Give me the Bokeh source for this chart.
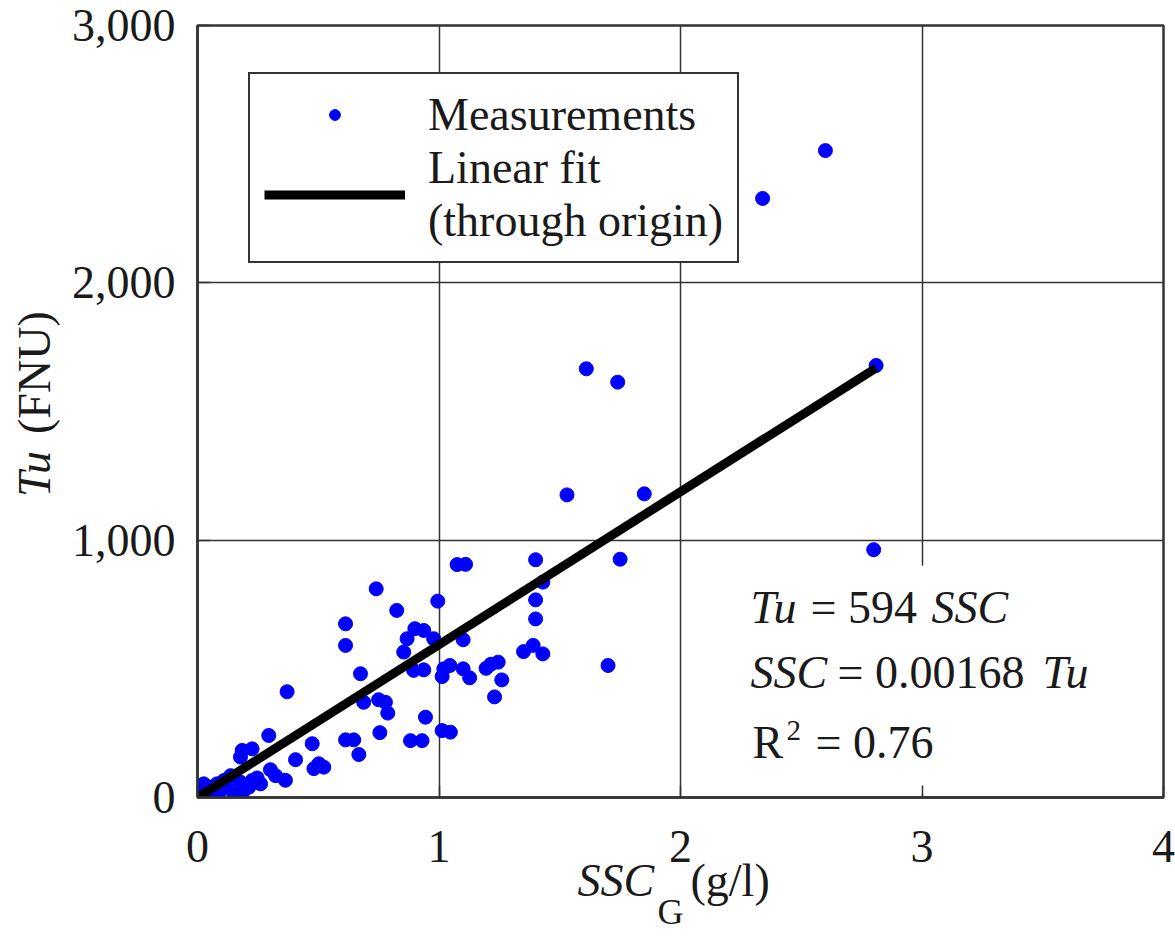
import numpy as np
from bokeh.plotting import figure
from bokeh.layouts import column, row
from bokeh.models import (Label, Legend, LegendItem, BoxAnnotation,
                          NumeralTickFormatter, FixedTicker, Range1d)
from bokeh.embed import file_html
from bokeh.resources import INLINE

# ---------------- data ----------------
ssc_g = [2.34, 2.60, 1.61, 1.74, 2.81, 1.53, 1.85, 2.80, 1.40, 1.75,
         1.43, 1.40, 1.40, 1.35, 1.39, 1.43, 1.70, 1.195, 1.215, 1.245,
         1.26, 1.23, 1.075, 1.11, 0.995, 1.10, 1.02, 1.045, 1.013, 1.10,
         1.127, 0.74, 0.825, 0.90, 0.937, 0.868, 0.978, 0.854, 0.895, 0.937,
         0.75, 0.778, 0.788, 0.755, 0.944, 0.882, 0.930, 1.013, 1.047, 0.613,
         0.613, 0.675, 0.688, 0.613, 0.647, 0.668, 0.371, 0.475, 0.406, 0.482,
         0.502, 0.523, 0.295, 0.185, 0.226, 0.178, 0.302, 0.323, 0.364, 0.247,
         0.261, 0.226, 0.137, 0.109, 0.081, 0.054, 0.033, 0.012, 0.002, 0.095,
         0.123, 0.150, 0.068, 0.192, 0.212, 0.026, 0.178]
tu_fnu = [2328, 2514, 1666, 1614, 1679, 1176, 1180, 963, 924, 926,
          837, 768, 694, 567, 591, 558, 513, 502, 518, 526,
          457, 391, 905, 906, 763, 613, 500, 513, 470, 500,
          465, 811, 727, 656, 649, 617, 617, 565, 494, 496,
          380, 370, 328, 252, 312, 221, 221, 260, 254, 675,
          591, 481, 370, 224, 224, 167, 411, 209, 147, 112,
          131, 118, 241, 183, 189, 157, 108, 85, 67, 76,
          53, 66, 85, 66, 53, 40, 27, 14, 8, 27,
          40, 14, 1, 27, 40, 53, 59]

fit_slope = 594          # Tu = 594 SSC
x_ticks = [0, 1, 2, 3, 4]
y_ticks = [0, 1000, 2000, 3000]

# ---------------- geometry / styling ----------------
FONT = "Liberation Serif"
FSZ = 46
FS = f"{FSZ}px"
TXT = "#1a1a1a"
DARK = "#333333"

TOTAL_W, TOTAL_H = 1175, 937
LW = 64                    # left strip (y title)
HM = 882                   # height of the main plot canvas
STRIP_TOP = 848            # top of the x-title strip (overlaps main's bottom, transparent)
F_L, F_T, F_R, F_B = 197, 25, 1163, 797   # frame edges on the page

# ---------------- main plot ----------------
p = figure(width=TOTAL_W - LW, height=HM,
           x_range=Range1d(0, 4), y_range=Range1d(0, 3000),
           output_backend="svg", toolbar_location=None,
           min_border_left=F_L - LW, min_border_top=F_T,
           min_border_right=TOTAL_W - F_R, min_border_bottom=HM - F_B)
p.background_fill_color = "white"
p.border_fill_color = "white"
p.outline_line_color = DARK
p.outline_line_width = 2.5

p.xaxis.ticker = FixedTicker(ticks=x_ticks)
p.yaxis.ticker = FixedTicker(ticks=y_ticks)
p.yaxis.formatter = NumeralTickFormatter(format="0,0")
for ax in (p.xaxis[0], p.yaxis[0]):
    ax.major_label_text_font = FONT
    ax.major_label_text_font_size = FS
    ax.major_label_text_color = TXT
    ax.major_tick_in = 12
    ax.major_tick_out = 0
    ax.minor_tick_in = 0
    ax.minor_tick_out = 0
    ax.axis_line_color = DARK
    ax.axis_line_width = 2.5
    ax.major_tick_line_color = DARK
    ax.major_tick_line_width = 1.5
p.xaxis.major_label_standoff = 33
p.yaxis.major_label_standoff = 22

p.grid.grid_line_color = DARK
p.grid.grid_line_width = 1.5

# page pixel -> data helpers (text placement inside the frame only)
def dx(px):
    return (px - F_L) * 4 / (F_R - F_L)

def dy(py):
    return (F_B - py) * 3000 / (F_B - F_T)

# white background behind the equation text (hides the grid there)
p.add_layout(BoxAnnotation(left=dx(738), right=dx(1158), bottom=dy(794), top=dy(565),
                           fill_color="white", fill_alpha=1.0, line_alpha=0,
                           level="underlay"))

# ---------------- data marks ----------------
sc = p.scatter(ssc_g, tu_fnu, size=14, marker="circle",
               fill_color="#0000FF", line_color="#0000FF")
fit_x = np.array([0.0, max(ssc_g)])
ln = p.line(fit_x, fit_slope * fit_x, line_color="black", line_width=9)

# ---------------- legend ----------------
legend = Legend(items=[LegendItem(label="Measurements", renderers=[sc]),
                       LegendItem(label="Linear fit\n(through origin)", renderers=[ln])],
                location=(51, 534),
                label_text_font=FONT, label_text_font_size=FS, label_text_color=TXT,
                glyph_width=141, glyph_height=27, label_standoff=23,
                padding=14, spacing=0,
                border_line_color=DARK, border_line_width=2, border_line_alpha=1.0,
                background_fill_color="white", background_fill_alpha=1.0)
p.add_layout(legend)

# ---------------- texts ----------------
# (baseline positions are given in page pixels; a small empirical
#  correction compensates the renderer's baseline placement)
def hlab(fig, text, x, base_y, italic=False, size=FSZ, to_x=None, to_y=None):
    y = base_y - 0.34 * size
    fig.add_layout(Label(x=to_x(x) if to_x else x, y=to_y(y) if to_y else y,
                         text=text, text_font=FONT, text_font_size=f"{size}px",
                         text_color=TXT,
                         text_font_style="italic" if italic else "normal",
                         text_align="left", text_baseline="alphabetic"))

def vlab(fig, text, base_x, start_y, italic=False, size=FSZ):
    fig.add_layout(Label(x=base_x - 0.34 * size, y=start_y + 0.71 * size,
                         text=text, angle=np.pi / 2,
                         text_font=FONT, text_font_size=f"{size}px", text_color=TXT,
                         text_font_style="italic" if italic else "normal",
                         text_align="left", text_baseline="alphabetic"))

# equation block (inside the frame)
kw = dict(to_x=dx, to_y=dy)
hlab(p, "Tu", 750, 623, italic=True, **kw)
hlab(p, "= 594", 810, 623, **kw)
hlab(p, "SSC", 931, 623, italic=True, **kw)
hlab(p, "SSC", 750, 688, italic=True, **kw)
hlab(p, "= 0.00168", 837, 688, **kw)
hlab(p, "Tu", 1042, 688, italic=True, **kw)
hlab(p, "R", 752, 758, **kw)
hlab(p, "2", 786, 740, size=29, **kw)
hlab(p, "= 0.76", 815, 758, **kw)

# ---------------- strips for the axis titles ----------------
def strip(w, h, x0, y0):
    f = figure(width=w, height=h, x_range=Range1d(x0, x0 + w), y_range=Range1d(y0 + h, y0),
               x_axis_type=None, y_axis_type=None, output_backend="svg",
               toolbar_location=None, min_border=0)
    f.outline_line_color = None
    f.background_fill_alpha = 0
    f.border_fill_alpha = 0
    return f

left = strip(LW, HM, 0, 0)
vlab(left, "Tu", 50, 506, italic=True)
vlab(left, "(FNU)", 50, 434)

bottom = strip(TOTAL_W, TOTAL_H - STRIP_TOP, 0, STRIP_TOP)
bottom.margin = (STRIP_TOP - HM, 0, 0, 0)
hlab(bottom, "SSC", 577, 896, italic=True)
hlab(bottom, "G", 657, 924, size=36)
hlab(bottom, "(g/l)", 690, 896)

layout = column(row(left, p), bottom)
open("out.html", "w").write(file_html(layout, INLINE))
